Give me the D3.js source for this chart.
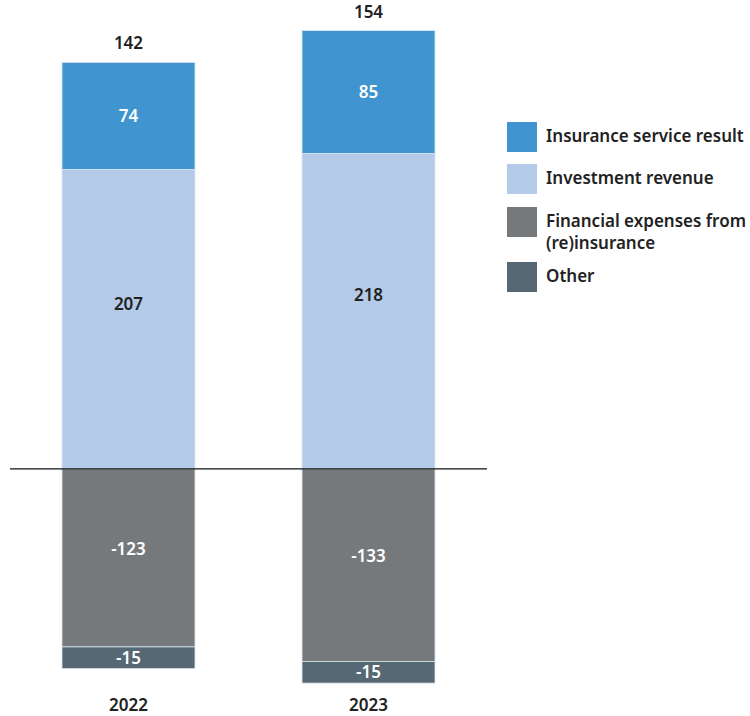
<!DOCTYPE html>
<html>
<head>
<meta charset="utf-8">
<script src="https://cdn.jsdelivr.net/npm/d3@7"></script>
<style>
  body { margin: 0; background: #fff; }
  text { font-family: "Noto Sans", sans-serif; font-weight: 600; font-size: 17px; }
</style>
</head>
<body>
<div id="chart"></div>
<script>
// data
var years = ["2022", "2023"];
var series = ["Insurance service result", "Investment revenue", "Financial expenses from (re)insurance", "Other"];
var insurance = [74, 85];
var investment = [207, 218];
var financial = [-123, -133];
var other = [-15, -15];
var totals = [142, 154];

var colors = ["#4095d1", "#b3cbe9", "#76797c", "#566873"];
var labelColors = ["#fff", "#222", "#fff", "#fff"];

var width = 750, height = 716;

var svg = d3.select("#chart")
  .append("svg")
    .attr("width", width)
    .attr("height", height);

var x = d3.scaleBand()
  .domain(years)
  .range([2, 495])
  .paddingInner(0.446)
  .paddingOuter(0.25);

var y = d3.scaleLinear()
  .domain([-150, 325])
  .range([686, -1.3]);

var values = [insurance, investment, financial, other];

// stack positives upward from 0 (investment first), negatives downward
years.forEach(function(yr, i) {
  var segs = [
    {k: 1, y0: 0, y1: investment[i]},
    {k: 0, y0: investment[i], y1: investment[i] + insurance[i]},
    {k: 2, y0: 0, y1: financial[i]},
    {k: 3, y0: financial[i], y1: financial[i] + other[i]}
  ];
  var g = svg.append("g");
  g.selectAll("rect")
    .data(segs)
    .enter().append("rect")
      .attr("x", x(yr))
      .attr("width", x.bandwidth())
      .attr("y", function(d) { return y(Math.max(d.y0, d.y1)); })
      .attr("height", function(d) { return Math.abs(y(d.y0) - y(d.y1)); })
      .attr("fill", function(d) { return colors[d.k]; })
      .attr("stroke", "#dce6ef")
      .attr("stroke-width", 0.8);
  g.selectAll("text.seg")
    .data(segs)
    .enter().append("text")
      .attr("class", "seg")
      .attr("x", x(yr) + x.bandwidth() / 2)
      .attr("y", function(d) {
        var top = y(Math.max(d.y0, d.y1)), bot = y(Math.min(d.y0, d.y1));
        var f = (bot - top) > 150 ? 0.45 : 0.5;
        return top + (bot - top) * f;
      })
      .attr("dy", "0.35em")
      .attr("text-anchor", "middle")
      .attr("fill", function(d) { return labelColors[d.k]; })
      .text(function(d) { return values[d.k][i]; });
  g.append("text")
    .attr("x", x(yr) + x.bandwidth() / 2)
    .attr("y", y(investment[i] + insurance[i]) - 13)
    .attr("text-anchor", "middle")
    .attr("fill", "#222")
    .text(totals[i]);
  g.append("text")
    .attr("x", x(yr) + x.bandwidth() / 2)
    .attr("y", 711)
    .attr("text-anchor", "middle")
    .attr("fill", "#222")
    .text(yr);
});

// zero line
svg.append("line")
  .attr("x1", 10).attr("x2", 487)
  .attr("y1", y(0)).attr("y2", y(0))
  .attr("stroke", "#111")
  .attr("stroke-width", 1.3);

// legend
var legendRows = [
  {k: 0, top: 122, lines: ["Insurance service result"]},
  {k: 1, top: 164, lines: ["Investment revenue"]},
  {k: 2, top: 207, lines: ["Financial expenses from", "(re)insurance"]},
  {k: 3, top: 262, lines: ["Other"]}
];
var legend = svg.append("g");
legendRows.forEach(function(r) {
  legend.append("rect")
    .attr("x", 507).attr("y", r.top)
    .attr("width", 30).attr("height", 30)
    .attr("fill", colors[r.k]);
  r.lines.forEach(function(t, j) {
    legend.append("text")
      .attr("x", 546)
      .attr("y", r.top + 20 + j * 22)
      .attr("fill", "#222")
      .text(t);
  });
});
</script>
</body>
</html>
